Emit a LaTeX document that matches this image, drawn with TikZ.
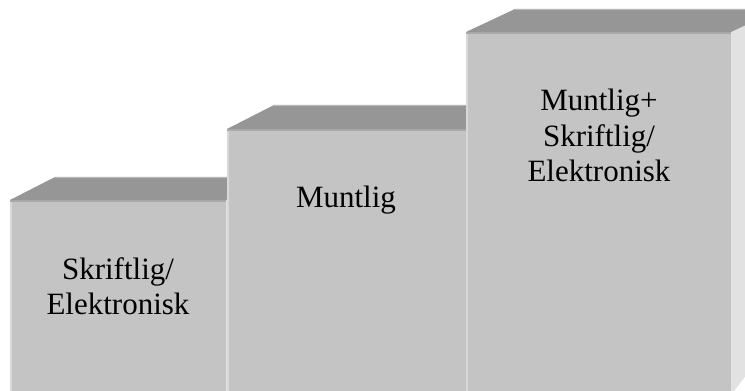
\documentclass[tikz,border=0pt]{standalone}
\usepackage{fontspec}
\setmainfont{Liberation Serif}
\usepackage{xcolor}
\usepackage{tikz}

\definecolor{facefront}{HTML}{C4C4C4}
\definecolor{facetop}{HTML}{969696}
\definecolor{faceside}{HTML}{E2E2E2}
\definecolor{edgelight}{HTML}{D8D8D8}
\definecolor{edgetop}{HTML}{A8A8A8}

\tikzset{
  steplabel/.style={anchor=base, align=center, inner sep=0pt,
    font=\fontsize{31}{35.5}\selectfont}
}

\begin{document}
\begin{tikzpicture}[x=1pt,y=1pt]
  \useasboundingbox (0,0) rectangle (745,391);
  \clip (0,0) rectangle (745,391);
  % three stairs: left x / right x / top y / depth
  \foreach \xl/\xr/\yt/\dx/\dy in {10/226/191/45/23,227/466/262/47/24,466/731/359/49/23} {
    \fill[faceside] (\xr,-4) -- (\xr,\yt) -- ++(\dx,\dy) -- (\xr+\dx,60) -- cycle;
    \fill[facefront] (\xl,-4) rectangle (\xr,\yt);
    \fill[facetop] (\xl,\yt) -- ++(\dx,\dy) -- (\xr+\dx,\yt+\dy) -- (\xr,\yt) -- cycle;
    \draw[edgelight,line width=2.5pt] (\xl+1.2,-4) -- (\xl+1.2,\yt-2);
    \draw[edgetop,line width=2pt] (\xl,\yt-1) -- (\xr,\yt-1);
    \draw[edgetop!80!white,line width=1pt] (\xl+\dx,\yt+\dy-0.5) -- (\xr+\dx,\yt+\dy-0.5);
  }
  % labels sit on the baseline of their last line
  \node[steplabel] (written) at (118,76) {Skriftlig/\\Elektronisk};
  \node[steplabel] (oral) at (346,183) {Muntlig};
  \node[steplabel] (both) at (599,209) {Muntlig+\\Skriftlig/\\Elektronisk};
\end{tikzpicture}
\end{document}
